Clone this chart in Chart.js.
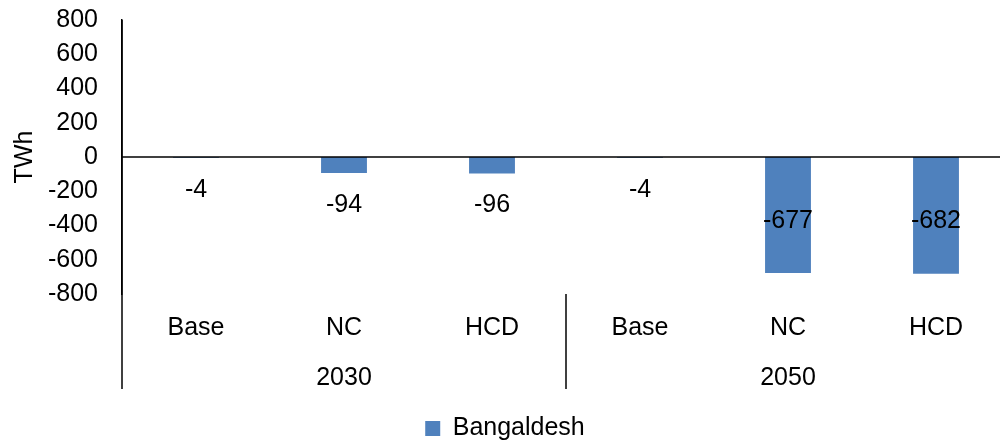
<!DOCTYPE html>
<html>
<head>
<meta charset="utf-8">
<script src="https://cdn.jsdelivr.net/npm/chart.js@4.4.1/dist/chart.umd.min.js"></script>
<style>
  html, body { margin: 0; padding: 0; overflow: hidden; background: #fff; }
  #wrap { width: 1012px; height: 441px; }
</style>
</head>
<body>
<div id="wrap"><canvas id="c" width="1012" height="441"></canvas></div>
<script>
// Electricity change by scenario, grouped by year
const scenarios = ['Base', 'NC', 'HCD', 'Base', 'NC', 'HCD'];
const years = ['2030', '2050'];
const groupSize = 3;
const seriesName = 'Bangaldesh';
const values = [-4, -94, -96, -4, -677, -682];
const yTicks = [800, 600, 400, 200, 0, -200, -400, -600, -800];

const FONT = 'Liberation Sans, Arial, sans-serif';
const FS = 25;
const BLUE = '#4F81BD';

// Zero line, group separators, year labels and value labels
const decorations = {
  id: 'decorations',
  afterDatasetsDraw(chart) {
    const { ctx, chartArea, scales } = chart;
    const x = scales.x, y = scales.y;
    const y0 = y.getPixelForValue(0);
    const sepBottom = 389;
    ctx.save();
    ctx.strokeStyle = '#000';
    ctx.lineWidth = 1.5;
    // zero line
    ctx.beginPath();
    ctx.moveTo(chartArea.left, y0);
    ctx.lineTo(chartArea.right, y0);
    ctx.stroke();
    // left axis extends down through the category rows
    ctx.beginPath();
    ctx.moveTo(chartArea.left, chartArea.top);
    ctx.lineTo(chartArea.left, sepBottom);
    ctx.stroke();
    // separators between year groups
    const step = x.getPixelForValue(1) - x.getPixelForValue(0);
    for (let g = 1; g < years.length; g++) {
      const px = x.getPixelForValue(g * groupSize) - step / 2;
      ctx.beginPath();
      ctx.moveTo(px, chartArea.bottom);
      ctx.lineTo(px, sepBottom);
      ctx.stroke();
    }
    // year labels
    ctx.fillStyle = '#000';
    ctx.font = FS + 'px ' + FONT;
    ctx.textAlign = 'center';
    ctx.textBaseline = 'middle';
    years.forEach((yr, g) => {
      const a = x.getPixelForValue(g * groupSize);
      const b = x.getPixelForValue(g * groupSize + groupSize - 1);
      ctx.fillText(yr, (a + b) / 2, 378);
    });
    // value labels
    const meta = chart.getDatasetMeta(0);
    meta.data.forEach((bar, i) => {
      const v = values[i];
      const h = Math.abs(bar.y - bar.base);
      const ly = h > 60 ? (bar.y + bar.base) / 2 + 6 : bar.y + 32;
      ctx.fillText(String(v), bar.x, ly);
    });
    ctx.restore();
  }
};

new Chart(document.getElementById('c'), {
  type: 'bar',
  data: {
    labels: scenarios,
    datasets: [{
      label: seriesName,
      data: values,
      backgroundColor: BLUE,
      borderWidth: 0,
      barPercentage: 0.31,
      categoryPercentage: 1.0
    }]
  },
  options: {
    responsive: false,
    animation: false,
    devicePixelRatio: 1,
    layout: { padding: { top: 20, left: 0, right: 2, bottom: -10 } },
    plugins: {
      legend: {
        position: 'bottom',
        labels: {
          font: { family: FONT, size: FS },
          color: '#000',
          boxWidth: 15,
          boxHeight: 15,
          padding: 2
        }
      },
      tooltip: { enabled: false }
    },
    scales: {
      x: {
        grid: { display: false, drawTicks: false },
        border: { display: false },
        ticks: {
          font: { family: FONT, size: FS },
          color: '#000',
          padding: 19,
          maxRotation: 0,
          autoSkip: false
        },
        afterFit(s) { s.height = 120; s.paddingLeft = 0; s.paddingRight = 0; }
      },
      y: {
        min: -800,
        max: 800,
        afterBuildTicks(s) { s.ticks = yTicks.map(v => ({ value: v })); },
        grid: { display: false, drawTicks: false },
        border: { display: true, color: '#000', width: 1.5 },
        ticks: {
          font: { family: FONT, size: FS },
          color: '#000',
          padding: 24
        },
        title: {
          display: true,
          text: 'TWh',
          font: { family: FONT, size: FS },
          color: '#000',
          padding: { top: 10, bottom: 0 }
        },
        afterFit(s) { s.width = 122; s.paddingTop = 0; s.paddingBottom = 0; }
      }
    }
  },
  plugins: [decorations]
});
</script>
</body>
</html>
